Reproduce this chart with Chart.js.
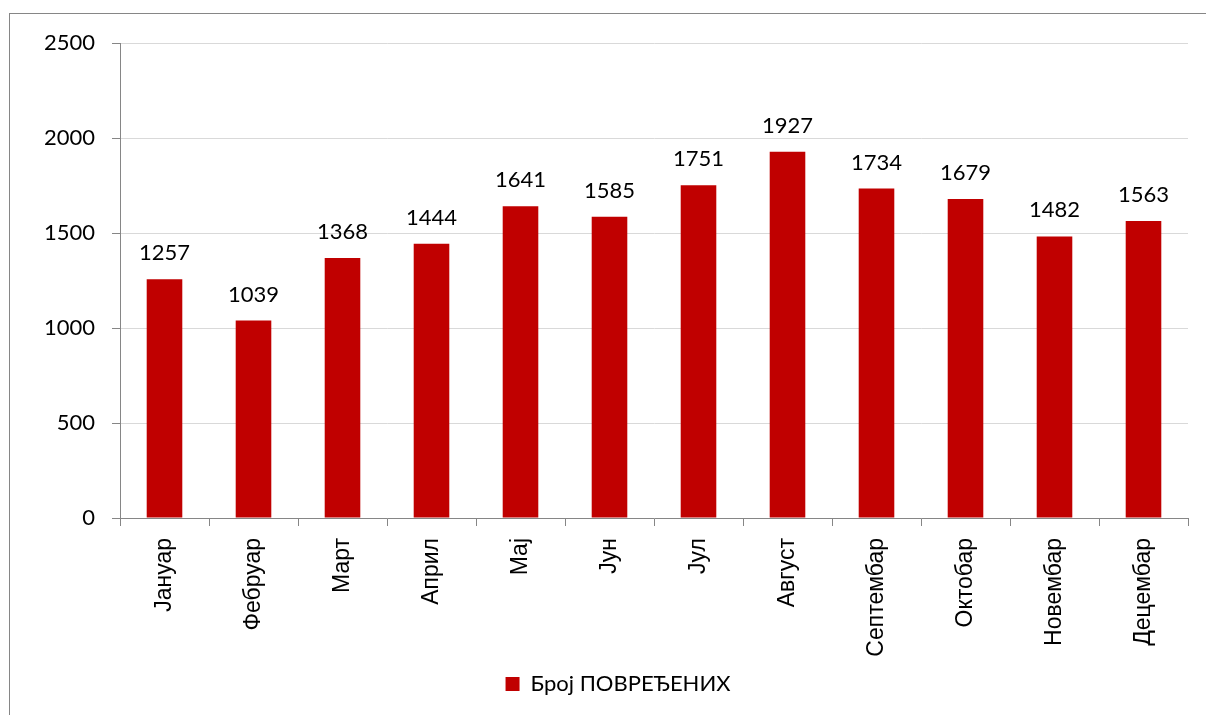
<!DOCTYPE html>
<html>
<head>
<meta charset="utf-8">
<title>Број повређених по месецима</title>
<script src="https://cdn.jsdelivr.net/npm/chart.js@4/dist/chart.umd.min.js"></script>
<style>
  html, body { margin: 0; padding: 0; background: #fff; }
  #chartWrap { width: 1206px; height: 715px; }
</style>
</head>
<body>
<div id="chartWrap"><canvas id="injuredChart" width="1206" height="715"></canvas></div>
<script>
// Chart data
const months = ['Јануар', 'Фебруар', 'Март', 'Април', 'Мај', 'Јун', 'Јул', 'Август', 'Септембар', 'Октобар', 'Новембар', 'Децембар'];
const injured = [1257, 1039, 1368, 1444, 1641, 1585, 1751, 1927, 1734, 1679, 1482, 1563];
const seriesLabel = 'Број ПОВРЕЂЕНИХ';
const yTicks = [0, 500, 1000, 1500, 2000, 2500];

// Colours and fonts
const barColor = '#C00000';
const axisColor = '#868686';
const gridColor = '#D9D9D9';
const numberFont = { family: "Lato, 'Open Sans', sans-serif", size: 22 };
const monthFont = { family: "'Liberation Sans', Arial, sans-serif", size: 23 };

/**
 * Outer frame of the chart (runs off the right and bottom edge)
 */
const framePlugin = {
  id: 'frame',
  beforeDraw(chart) {
    const ctx = chart.ctx;
    ctx.save();
    ctx.fillStyle = '#fff';
    ctx.fillRect(0, 0, chart.width, chart.height);
    ctx.strokeStyle = axisColor;
    ctx.lineWidth = 1;
    ctx.strokeRect(9.5, 13.5, chart.width + 20, chart.height + 20);
    ctx.restore();
  }
};

/**
 * Legend sits centred on the frame, not on the canvas - nudge it right
 */
const legendShiftPlugin = {
  id: 'legendShift',
  afterLayout(chart) {
    if (!chart.legend) return;
    chart.legend.left += 24;
    chart.legend.right += 24;
  }
};

/**
 * Value labels above every bar
 */
const valueLabelPlugin = {
  id: 'valueLabels',
  afterDatasetsDraw(chart) {
    const ctx = chart.ctx;
    const meta = chart.getDatasetMeta(0);
    ctx.save();
    ctx.font = `${numberFont.size}px ${numberFont.family}`;
    ctx.fillStyle = '#000';
    ctx.textAlign = 'center';
    ctx.textBaseline = 'alphabetic';
    meta.data.forEach((bar, i) => {
      ctx.fillText(String(injured[i]), bar.x, bar.y - 19);
    });
    ctx.restore();
  }
};

/**
 * Initialize chart
 */
function initChart() {
  const ctx = document.getElementById('injuredChart').getContext('2d');
  return new Chart(ctx, {
    type: 'bar',
    data: {
      labels: months,
      datasets: [{
        label: seriesLabel,
        data: injured,
        backgroundColor: barColor,
        borderWidth: 0,
        barPercentage: 0.4,
        categoryPercentage: 1.0
      }]
    },
    options: {
      responsive: false,
      devicePixelRatio: 1,
      animation: false,
      layout: {
        padding: { left: 0, right: 18, top: 43, bottom: 10 }
      },
      plugins: {
        legend: {
          position: 'bottom',
          labels: {
            boxWidth: 14,
            boxHeight: 14,
            padding: 10,
            color: '#000',
            font: numberFont
          }
        },
        tooltip: { enabled: false }
      },
      scales: {
        x: {
          offset: true,
          grid: {
            offset: true,
            drawOnChartArea: false,
            drawTicks: true,
            tickLength: 8,
            tickColor: axisColor
          },
          border: { color: axisColor, width: 1 },
          ticks: {
            autoSkip: false,
            minRotation: 90,
            maxRotation: 90,
            padding: 12,
            color: '#000',
            font: monthFont
          },
          afterFit(scale) {
            scale.height = 145;
          }
        },
        y: {
          min: yTicks[0],
          max: yTicks[yTicks.length - 1],
          grid: {
            color: gridColor,
            tickColor: axisColor,
            tickLength: 8
          },
          border: { color: axisColor, width: 1 },
          ticks: {
            stepSize: yTicks[1] - yTicks[0],
            padding: 17,
            color: '#000',
            font: numberFont,
            callback: value => String(value)
          },
          afterFit(scale) {
            scale.width = 120;
          }
        }
      }
    },
    plugins: [framePlugin, legendShiftPlugin, valueLabelPlugin]
  });
}

// Build chart once page is loaded
document.addEventListener('DOMContentLoaded', function() {
  initChart();
});
</script>
</body>
</html>
